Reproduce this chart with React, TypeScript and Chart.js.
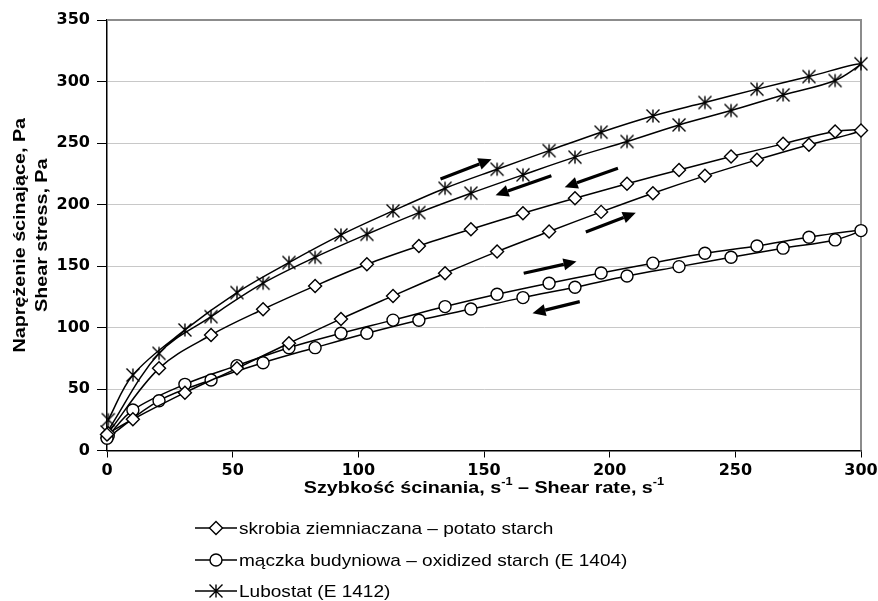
import { useEffect, useRef } from "react";
import { Chart, registerables } from "chart.js";

Chart.register(...registerables);

// Shear rates (s^-1): up-sweep points then down-sweep points
const upRates = [0.5, 10.3, 31.0, 51.7, 72.4, 93.1, 113.8, 134.5, 155.2, 175.9, 196.6, 217.2, 237.9, 258.6, 279.3, 300];
const downRates = [289.7, 269.0, 248.3, 227.6, 206.9, 186.2, 165.5, 144.8, 124.1, 103.4, 82.8, 62.1, 41.4, 20.7, 0];

// Shear stress (Pa)
const potatoUp = [14, 25.4, 47, 66.8, 87.2, 107, 125.7, 144.1, 161.7, 178, 194, 209.2, 223.3, 236.3, 248.5, 260.1];
const potatoDown = [259.3, 249.3, 239, 228.1, 216.8, 205.1, 192.9, 179.9, 166.3, 151.4, 133.8, 114.8, 93.9, 66.8, 13];

const oxidizedUp = [12, 32.9, 53.8, 69, 83.6, 95.3, 106, 117, 127, 136, 144.3, 152.3, 160.4, 166.3, 173.4, 178.8];
const oxidizedDown = [171.2, 164.5, 157.1, 149.5, 141.9, 132.7, 124.3, 115, 105.9, 95.3, 83.6, 71.4, 57.3, 40.5, 10];

const lubostatUp = [25, 61.4, 98, 128.4, 152.8, 175.3, 194.8, 213.2, 228.7, 243.8, 258.8, 272, 282.9, 293.8, 304, 314.4];
const lubostatDown = [300.8, 289.1, 276.4, 264.7, 251.2, 238.5, 224.1, 209.2, 193.4, 175.8, 157.1, 136, 108.8, 79, 15];

const seriesNames = [
  "skrobia ziemniaczana – potato starch",
  "mączka budyniowa – oxidized starch (E 1404)",
  "Lubostat (E 1412)",
];

const yTitleLines = ["Naprężenie ścinające, Pa", "Shear stress, Pa"];
const xTitleParts = ["Szybkość ścinania, s", "-1", " – Shear rate, s", "-1"];

// Direction arrows, in data units (shear rate, shear stress)
const arrowStarts = [[132.7, 220.8], [176.8, 223.3], [203.3, 229.5], [190.5, 177.7], [165.8, 144.1], [188.1, 121.0]];
const arrowEnds = [[153.0, 236.8], [154.6, 207.6], [182.1, 214.1], [210.4, 193.2], [186.8, 153.6], [169.3, 111.6]];

function loop(up: number[], down: number[]) {
  return [
    ...up.map((y, i) => ({ x: upRates[i], y })),
    ...down.map((y, i) => ({ x: downRates[i], y })),
  ];
}

function makeStar(): HTMLCanvasElement {
  const size = 16;
  const c = document.createElement("canvas");
  c.width = size;
  c.height = size;
  const g = c.getContext("2d")!;
  const m = size / 2;
  const r = 6.5;
  g.strokeStyle = "#000";
  g.lineWidth = 1.4;
  g.beginPath();
  g.moveTo(m, m - r);
  g.lineTo(m, m + r);
  g.moveTo(m - r, m - r);
  g.lineTo(m + r, m + r);
  g.moveTo(m + r, m - r);
  g.lineTo(m - r, m + r);
  g.stroke();
  return c;
}

function stretchText(ctx: CanvasRenderingContext2D, text: string, x: number, y: number, sx: number, align: CanvasTextAlign) {
  ctx.save();
  ctx.translate(x, y);
  ctx.scale(sx, 1);
  ctx.textAlign = align;
  ctx.fillText(text, 0, 0);
  ctx.restore();
}

function drawMarker(ctx: CanvasRenderingContext2D, style: any, x: number, y: number, r: number) {
  ctx.save();
  ctx.strokeStyle = "#000";
  ctx.fillStyle = "#fff";
  ctx.lineWidth = 1.4;
  if (style === "circle") {
    ctx.beginPath();
    ctx.arc(x, y, r, 0, Math.PI * 2);
    ctx.fill();
    ctx.stroke();
  } else if (style === "rectRot") {
    ctx.beginPath();
    ctx.moveTo(x, y - r);
    ctx.lineTo(x + r, y);
    ctx.lineTo(x, y + r);
    ctx.lineTo(x - r, y);
    ctx.closePath();
    ctx.fill();
    ctx.stroke();
  } else if (style instanceof HTMLCanvasElement) {
    ctx.drawImage(style, x - style.width / 2, y - style.height / 2);
  }
  ctx.restore();
}

const framePlugin = {
  id: "frame",
  beforeDatasetsDraw(chart: any) {
    const { ctx, chartArea } = chart;
    ctx.save();
    ctx.strokeStyle = "#8c8c8c";
    ctx.lineWidth = 2;
    ctx.beginPath();
    ctx.moveTo(chartArea.left, chartArea.top);
    ctx.lineTo(chartArea.right, chartArea.top);
    ctx.lineTo(chartArea.right, chartArea.bottom);
    ctx.stroke();
    ctx.restore();
  },
};

const arrowPlugin = {
  id: "arrows",
  afterDatasetsDraw(chart: any) {
    const { ctx } = chart;
    const xs = chart.scales.x;
    const ys = chart.scales.y;
    ctx.save();
    ctx.strokeStyle = "#000";
    ctx.fillStyle = "#000";
    ctx.lineWidth = 3.2;
    ctx.lineCap = "butt";
    arrowStarts.forEach((s, i) => {
      const e = arrowEnds[i];
      const x1 = xs.getPixelForValue(s[0]);
      const y1 = ys.getPixelForValue(s[1]);
      const x2 = xs.getPixelForValue(e[0]);
      const y2 = ys.getPixelForValue(e[1]);
      const ang = Math.atan2(y2 - y1, x2 - x1);
      const headLen = 13;
      const headHalf = 6;
      const bx = x2 - headLen * Math.cos(ang);
      const by = y2 - headLen * Math.sin(ang);
      ctx.beginPath();
      ctx.moveTo(x1, y1);
      ctx.lineTo(bx, by);
      ctx.stroke();
      ctx.beginPath();
      ctx.moveTo(x2, y2);
      ctx.lineTo(bx + headHalf * Math.sin(ang), by - headHalf * Math.cos(ang));
      ctx.lineTo(bx - headHalf * Math.sin(ang), by + headHalf * Math.cos(ang));
      ctx.closePath();
      ctx.fill();
    });
    ctx.restore();
  },
};

const textPlugin = {
  id: "texts",
  afterDraw(chart: any) {
    const { ctx, chartArea } = chart;
    ctx.save();
    ctx.fillStyle = "#000";
    ctx.textBaseline = "middle";

    // Y title (rotated, two lines)
    const cy = (chartArea.top + chartArea.bottom) / 2;
    ctx.font = "bold 17px 'Liberation Sans', Arial, sans-serif";
    [20, 42].forEach((x, i) => {
      ctx.save();
      ctx.translate(x, cy);
      ctx.rotate(-Math.PI / 2);
      ctx.scale(1.16, 1);
      ctx.textAlign = "center";
      ctx.fillText(yTitleLines[i], 0, 0);
      ctx.restore();
    });

    // X title with superscripts
    const base = "bold 17px 'Liberation Sans', Arial, sans-serif";
    const sup = "bold 11px 'Liberation Sans', Arial, sans-serif";
    const sx = 1.16;
    const widths = xTitleParts.map((p, i) => {
      ctx.font = i % 2 === 1 ? sup : base;
      return ctx.measureText(p).width;
    });
    const total = widths.reduce((a, b) => a + b, 0) * sx;
    const cx = (chartArea.left + chartArea.right) / 2;
    ctx.save();
    ctx.translate(cx - total / 2, 488);
    ctx.scale(sx, 1);
    ctx.textAlign = "left";
    let off = 0;
    xTitleParts.forEach((p, i) => {
      ctx.font = i % 2 === 1 ? sup : base;
      ctx.fillText(p, off, i % 2 === 1 ? -6 : 0);
      off += widths[i];
    });
    ctx.restore();

    // Legend
    const rows = [528, 560, 591];
    ctx.font = "17px 'Liberation Sans', Arial, sans-serif";
    chart.data.datasets.forEach((ds: any, i: number) => {
      const y = rows[i];
      ctx.save();
      ctx.strokeStyle = "#000";
      ctx.lineWidth = 1.5;
      ctx.beginPath();
      ctx.moveTo(195, y);
      ctx.lineTo(237, y);
      ctx.stroke();
      ctx.restore();
      drawMarker(ctx, ds.pointStyle, 216, y, ds.pointStyle === "circle" ? 6 : 6.5);
      ctx.fillStyle = "#000";
      stretchText(ctx, seriesNames[i], 239, y + 1, 1.12, "left");
    });
    ctx.restore();
  },
};

export default function App() {
  const ref = useRef<HTMLCanvasElement | null>(null);

  useEffect(() => {
    if (!ref.current) return;
    const star = makeStar();
    const common = {
      showLine: true,
      borderColor: "#000",
      borderWidth: 1.5,
      backgroundColor: "#fff",
      pointBackgroundColor: "#fff",
      pointBorderColor: "#000",
      pointBorderWidth: 1.4,
      tension: 0.35,
      clip: false as any,
    };
    const chart = new Chart(ref.current, {
      type: "scatter",
      data: {
        datasets: [
          { ...common, label: seriesNames[0], data: loop(potatoUp, potatoDown), pointStyle: "rectRot", pointRadius: 6.5 },
          { ...common, label: seriesNames[1], data: loop(oxidizedUp, oxidizedDown), pointStyle: "circle", pointRadius: 6 },
          { ...common, label: seriesNames[2], data: loop(lubostatUp, lubostatDown), pointStyle: star as any, pointRadius: 7 },
        ],
      },
      options: {
        animation: false,
        responsive: false,
        events: [],
        layout: { padding: { top: 20, right: 0, left: 0, bottom: 0 } },
        plugins: {
          legend: { display: false },
          tooltip: { enabled: false },
          title: { display: false },
        },
        scales: {
          x: {
            type: "linear",
            min: 0,
            max: 300,
            ticks: {
              stepSize: 50,
              color: "#000",
              padding: 4,
              font: { family: "'DejaVu Sans'", weight: "bold", size: 16 },
            },
            grid: { drawOnChartArea: false, drawTicks: true, tickLength: 7, tickColor: "#000" },
            border: { color: "#000", width: 1.5 },
            afterFit: (s: any) => {
              s.height = 150.5;
              s.paddingRight = 17;
              s.paddingLeft = 0;
            },
          },
          y: {
            type: "linear",
            min: 0,
            max: 350,
            ticks: {
              stepSize: 50,
              color: "#000",
              padding: 7,
              font: { family: "'DejaVu Sans'", weight: "bold", size: 16 },
            },
            grid: { color: "#c8c8c8", lineWidth: 1, tickLength: 10, tickColor: "#000" },
            border: { color: "#000", width: 1.5 },
            afterFit: (s: any) => {
              s.width = 107;
            },
          },
        },
      },
      plugins: [framePlugin, arrowPlugin, textPlugin],
    });
    return () => chart.destroy();
  }, []);

  return (
    <div style={{ position: "absolute", left: 0, top: 0, width: 878, height: 601, background: "#fff" }}>
      <canvas ref={ref} width={878} height={601} style={{ display: "block" }} />
    </div>
  );
}
